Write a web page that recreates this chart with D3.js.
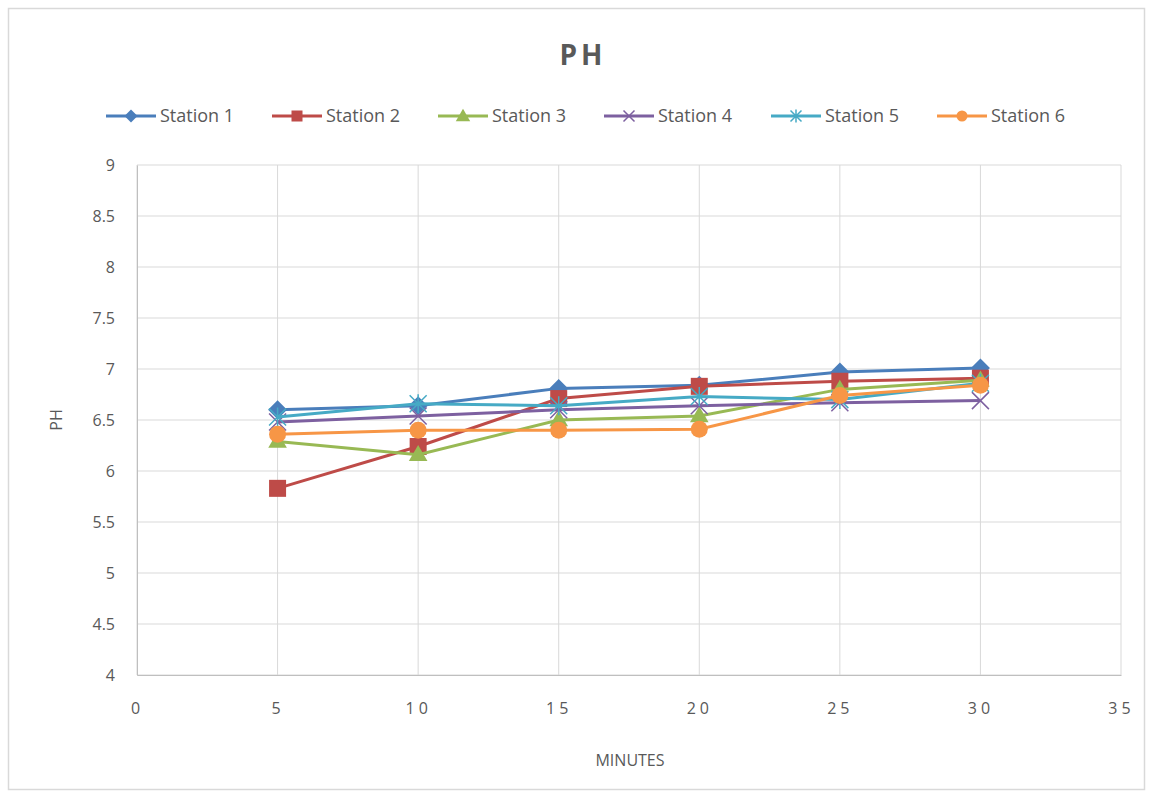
<!DOCTYPE html>
<html>
<head>
<meta charset="utf-8">
<script src="https://cdn.jsdelivr.net/npm/d3@7"></script>
<style>
  body { margin: 0; background: #fff; }
  text { font-family: "Open Sans", "Liberation Sans", sans-serif; }
</style>
</head>
<body>
<div id="chart"></div>
<script>
// data
var minutes = [5, 10, 15, 20, 25, 30];
var seriesNames = ["Station 1", "Station 2", "Station 3", "Station 4", "Station 5", "Station 6"];
var station1 = [6.60, 6.64, 6.81, 6.84, 6.97, 7.01];
var station2 = [5.83, 6.24, 6.71, 6.83, 6.88, 6.91];
var station3 = [6.29, 6.16, 6.50, 6.54, 6.80, 6.89];
var station4 = [6.48, 6.54, 6.60, 6.64, 6.67, 6.69];
var station5 = [6.53, 6.66, 6.64, 6.73, 6.70, 6.86];
var station6 = [6.36, 6.40, 6.40, 6.41, 6.74, 6.84];
var xTicks = [0, 5, 10, 15, 20, 25, 30, 35];
var yTicks = [4, 4.5, 5, 5.5, 6, 6.5, 7, 7.5, 8, 8.5, 9];

var colors = ["#4A7EBB", "#BE4B48", "#98B954", "#7D60A0", "#46AAC5", "#F79646"];
var markers = ["diamond", "square", "triangle", "x", "star", "circle"];
var allSeries = [station1, station2, station3, station4, station5, station6];

var width = 1151, height = 797;
var margin = {left: 137, right: 30, top: 165, bottom: 122};

var svg = d3.select("#chart").append("svg")
    .attr("width", width).attr("height", height);

// outer chart border
svg.append("rect")
    .attr("x", 8.5).attr("y", 8.5)
    .attr("width", 1136).attr("height", 781)
    .attr("fill", "#fff").attr("stroke", "#d9d9d9").attr("stroke-width", 1.5);

var x = d3.scaleLinear().domain([0, 35]).range([margin.left, width - margin.right]);
var y = d3.scaleLinear().domain([4, 9]).range([height - margin.bottom, margin.top]);

// gridlines
svg.append("g").selectAll("line.h")
    .data(yTicks).enter().append("line")
    .attr("x1", x(0)).attr("x2", x(35))
    .attr("y1", function(d) { return y(d); })
    .attr("y2", function(d) { return y(d); })
    .attr("stroke", "#d9d9d9").attr("stroke-width", 1);

svg.append("g").selectAll("line.v")
    .data(xTicks).enter().append("line")
    .attr("x1", function(d) { return x(d); })
    .attr("x2", function(d) { return x(d); })
    .attr("y1", y(4)).attr("y2", y(9))
    .attr("stroke", "#d9d9d9").attr("stroke-width", 1);

// axes
var xAxis = svg.append("g")
    .attr("transform", "translate(0," + y(4) + ")")
    .call(d3.axisBottom(x).tickValues(xTicks).tickSize(0).tickPadding(28));
xAxis.select(".domain").attr("stroke", "#bfbfbf");
xAxis.selectAll("text")
    .attr("font-size", 16).attr("fill", "#595959")
    .attr("letter-spacing", "4px")
    .text(function(d) { return d; });

var yAxis = svg.append("g")
    .attr("transform", "translate(" + x(0) + ",0)")
    .call(d3.axisLeft(y).tickValues(yTicks).tickSize(0).tickPadding(22)
        .tickFormat(function(d) { return d; }));
yAxis.select(".domain").attr("stroke", "#bfbfbf");
yAxis.selectAll("text").attr("font-size", 16).attr("fill", "#595959");

// title and axis labels
svg.append("text")
    .attr("x", 583).attr("y", 65)
    .attr("text-anchor", "middle")
    .attr("font-size", 28).attr("font-weight", "bold")
    .attr("letter-spacing", "4px")
    .attr("fill", "#595959")
    .text("PH");

svg.append("text")
    .attr("x", 630).attr("y", 766)
    .attr("text-anchor", "middle")
    .attr("font-size", 16).attr("fill", "#595959")
    .text("MINUTES");

svg.append("text")
    .attr("transform", "translate(62," + y(6.5) + ") rotate(-90)")
    .attr("text-anchor", "middle")
    .attr("font-size", 16).attr("fill", "#595959")
    .text("PH");

// marker drawing
function drawMarker(g, type, color, size) {
    if (type == "diamond") {
        var d = size / 2 + 2;
        g.append("path").attr("d", "M0," + (-d) + "L" + d + ",0L0," + d + "L" + (-d) + ",0Z")
            .attr("fill", color);
    } else if (type == "square") {
        g.append("rect").attr("x", -size / 2 - 1).attr("y", -size / 2 - 1)
            .attr("width", size + 2).attr("height", size + 2).attr("fill", color);
    } else if (type == "triangle") {
        g.append("path").attr("d", d3.symbol().type(d3.symbolTriangle).size(size * 10)())
            .attr("fill", color).attr("transform", "translate(0,1)");
    } else if (type == "x") {
        var s = size / 2 + 1;
        g.append("path").attr("d", "M" + (-s) + "," + (-s) + "L" + s + "," + s + "M" + (-s) + "," + s + "L" + s + "," + (-s))
            .attr("stroke", color).attr("stroke-width", 1.5).attr("fill", "none");
    } else if (type == "star") {
        var s2 = size / 2 + 1;
        g.append("path").attr("d", "M" + (-s2) + "," + (-s2) + "L" + s2 + "," + s2 + "M" + (-s2) + "," + s2 + "L" + s2 + "," + (-s2) + "M0," + (-s2 - 1) + "L0," + (s2 + 1))
            .attr("stroke", color).attr("stroke-width", 1.5).attr("fill", "none");
    } else if (type == "circle") {
        g.append("circle").attr("r", size / 2 + 1).attr("fill", color);
    }
}

var line = d3.line()
    .x(function(d, i) { return x(minutes[i]); })
    .y(function(d) { return y(d); });

// lines then markers
allSeries.forEach(function(vals, k) {
    svg.append("path")
        .datum(vals)
        .attr("d", line)
        .attr("fill", "none")
        .attr("stroke", colors[k])
        .attr("stroke-width", 3);
    vals.forEach(function(v, i) {
        var g = svg.append("g")
            .attr("transform", "translate(" + x(minutes[i]) + "," + y(v) + ")");
        drawMarker(g, markers[k], colors[k], 15);
    });
});

// legend
var legendX = [106, 272, 438, 604, 771, 937];
var legend = svg.append("g");
seriesNames.forEach(function(name, k) {
    var lg = legend.append("g").attr("transform", "translate(" + legendX[k] + ",116)");
    lg.append("line").attr("x1", 0).attr("x2", 50).attr("y1", 0).attr("y2", 0)
        .attr("stroke", colors[k]).attr("stroke-width", 3);
    var mg = lg.append("g").attr("transform", "translate(25,0)");
    drawMarker(mg, markers[k], colors[k], 9);
    lg.append("text").attr("x", 54).attr("y", 6)
        .attr("font-size", 18).attr("fill", "#595959")
        .text(name);
});
</script>
</body>
</html>
